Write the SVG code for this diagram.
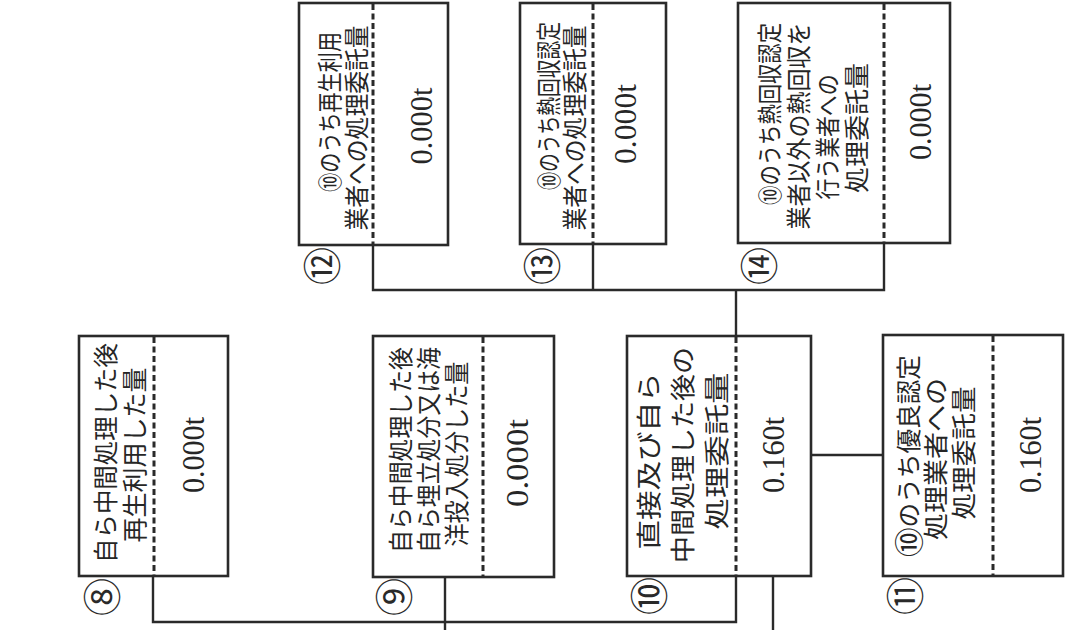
<svg xmlns="http://www.w3.org/2000/svg" width="1065" height="630" viewBox="0 0 1065 630">
<style>
.box{fill:none;stroke:#2a2a2a;stroke-width:2.6}
.dash{stroke:#2a2a2a;stroke-width:3;stroke-dasharray:6 3.5;fill:none}
.con{fill:none;stroke:#2a2a2a;stroke-width:2.4}
.jp{font-family:"Noto Sans CJK JP","Noto Sans",sans-serif;font-size:25px;fill:#262626;text-anchor:middle;dominant-baseline:central}
.val{font-family:"Liberation Serif","DejaVu Serif",serif;font-size:32px;fill:#262626;text-anchor:middle;dominant-baseline:central}
.num{font-family:"Noto Sans CJK JP",sans-serif;font-size:38px;fill:#2a2a2a;text-anchor:middle;dominant-baseline:central}
</style>
<rect width="1065" height="630" fill="#ffffff"/>
<g id="connectors">
<polyline class="con" points="153,576 153,622 736,622 736,576"/>
<line class="con" x1="445" y1="576" x2="445" y2="630"/>
<line class="con" x1="773" y1="576" x2="773" y2="630"/>
<line class="con" x1="811" y1="455" x2="883" y2="455"/>
<line class="con" x1="736" y1="336" x2="736" y2="290"/>
<polyline class="con" points="373,245 373,290 884,290 884,243"/>
<line class="con" x1="593" y1="244" x2="593" y2="290"/>
</g>
<g id="node8">
<rect class="box" x="79" y="336" width="149" height="240"/>
<line class="dash" x1="154" y1="337" x2="154" y2="575"/>
<text class="jp" font-size="25" transform="translate(104 453) rotate(-90)" textLength="220" lengthAdjust="spacingAndGlyphs">自ら中間処理した後</text>
<text class="jp" font-size="25" transform="translate(133 455) rotate(-90)" textLength="175" lengthAdjust="spacingAndGlyphs">再生利用した量</text>
<text class="val" transform="translate(193 455) rotate(-90)" textLength="76" lengthAdjust="spacingAndGlyphs">0.000t</text>
<text class="num" transform="translate(99 597) rotate(-90)">⑧</text>
</g>
<g id="node9">
<rect class="box" x="373" y="336" width="181" height="241"/>
<line class="dash" x1="483" y1="337" x2="483" y2="576"/>
<text class="jp" font-size="23" transform="translate(399 450) rotate(-90)" textLength="206" lengthAdjust="spacingAndGlyphs">自ら中間処理した後</text>
<text class="jp" font-size="23" transform="translate(427 450) rotate(-90)" textLength="206" lengthAdjust="spacingAndGlyphs">自ら埋立処分又は海</text>
<text class="jp" font-size="23" transform="translate(455 454) rotate(-90)" textLength="185" lengthAdjust="spacingAndGlyphs">洋投入処分した量</text>
<text class="val" transform="translate(517 463) rotate(-90)" textLength="88" lengthAdjust="spacingAndGlyphs">0.000t</text>
<text class="num" transform="translate(391 597) rotate(-90)">⑨</text>
</g>
<g id="node10">
<rect class="box" x="627" y="336" width="184" height="240"/>
<line class="dash" x1="736" y1="337" x2="736" y2="575"/>
<text class="jp" font-size="29" transform="translate(647 461) rotate(-90)" textLength="177" lengthAdjust="spacingAndGlyphs">直接及び自ら</text>
<text class="jp" font-size="27" transform="translate(681 455) rotate(-90)" textLength="216" lengthAdjust="spacingAndGlyphs">中間処理した後の</text>
<text class="jp" font-size="30" transform="translate(715 451) rotate(-90)" textLength="157" lengthAdjust="spacingAndGlyphs">処理委託量</text>
<text class="val" transform="translate(773 455) rotate(-90)" textLength="76" lengthAdjust="spacingAndGlyphs">0.160t</text>
<text class="num" transform="translate(646 596) rotate(-90)">⑩</text>
</g>
<g id="node11">
<rect class="box" x="883" y="335" width="180" height="241"/>
<line class="dash" x1="993" y1="336" x2="993" y2="575"/>
<text class="jp" font-size="24" transform="translate(907 456) rotate(-90)" textLength="202" lengthAdjust="spacingAndGlyphs"><tspan font-size="30">⑩</tspan>のうち優良認定</text>
<text class="jp" font-size="26" transform="translate(934 459) rotate(-90)" textLength="162" lengthAdjust="spacingAndGlyphs">処理業者への</text>
<text class="jp" font-size="26" transform="translate(962 453) rotate(-90)" textLength="133" lengthAdjust="spacingAndGlyphs">処理委託量</text>
<text class="val" transform="translate(1030 455) rotate(-90)" textLength="76" lengthAdjust="spacingAndGlyphs">0.160t</text>
<text class="num" transform="translate(902 596) rotate(-90)">⑪</text>
</g>
<g id="node12">
<rect class="box" x="299" y="3" width="149" height="242"/>
<line class="dash" x1="373" y1="4" x2="373" y2="244"/>
<text class="jp" font-size="19" transform="translate(328 112) rotate(-90)" textLength="160" lengthAdjust="spacingAndGlyphs"><tspan font-size="24">⑩</tspan>のうち再生利用</text>
<text class="jp" font-size="23" transform="translate(355 128) rotate(-90)" textLength="205" lengthAdjust="spacingAndGlyphs">業者への処理委託量</text>
<text class="val" transform="translate(421 126) rotate(-90)" textLength="77" lengthAdjust="spacingAndGlyphs">0.000t</text>
<text class="num" transform="translate(319 266) rotate(-90)">⑫</text>
</g>
<g id="node13">
<rect class="box" x="520" y="3" width="146" height="241"/>
<line class="dash" x1="593" y1="4" x2="593" y2="243"/>
<text class="jp" font-size="18" transform="translate(547 106) rotate(-90)" textLength="168" lengthAdjust="spacingAndGlyphs"><tspan font-size="24">⑩</tspan>のうち熱回収認定</text>
<text class="jp" font-size="23" transform="translate(573 128) rotate(-90)" textLength="205" lengthAdjust="spacingAndGlyphs">業者への処理委託量</text>
<text class="val" transform="translate(625 124) rotate(-90)" textLength="80" lengthAdjust="spacingAndGlyphs">0.000t</text>
<text class="num" transform="translate(539 266) rotate(-90)">⑬</text>
</g>
<g id="node14">
<rect class="box" x="738" y="3" width="212" height="240"/>
<line class="dash" x1="884" y1="4" x2="884" y2="242"/>
<text class="jp" font-size="19" transform="translate(768 114) rotate(-90)" textLength="182" lengthAdjust="spacingAndGlyphs"><tspan font-size="24">⑩</tspan>のうち熱回収認定</text>
<text class="jp" font-size="23" transform="translate(797 126) rotate(-90)" textLength="207" lengthAdjust="spacingAndGlyphs">業者以外の熱回収を</text>
<text class="jp" font-size="21" transform="translate(826 137) rotate(-90)" textLength="125" lengthAdjust="spacingAndGlyphs">行う業者への</text>
<text class="jp" font-size="26" transform="translate(855 128) rotate(-90)" textLength="130" lengthAdjust="spacingAndGlyphs">処理委託量</text>
<text class="val" transform="translate(920 122) rotate(-90)" textLength="76" lengthAdjust="spacingAndGlyphs">0.000t</text>
<text class="num" transform="translate(756 266) rotate(-90)">⑭</text>
</g>
</svg>
